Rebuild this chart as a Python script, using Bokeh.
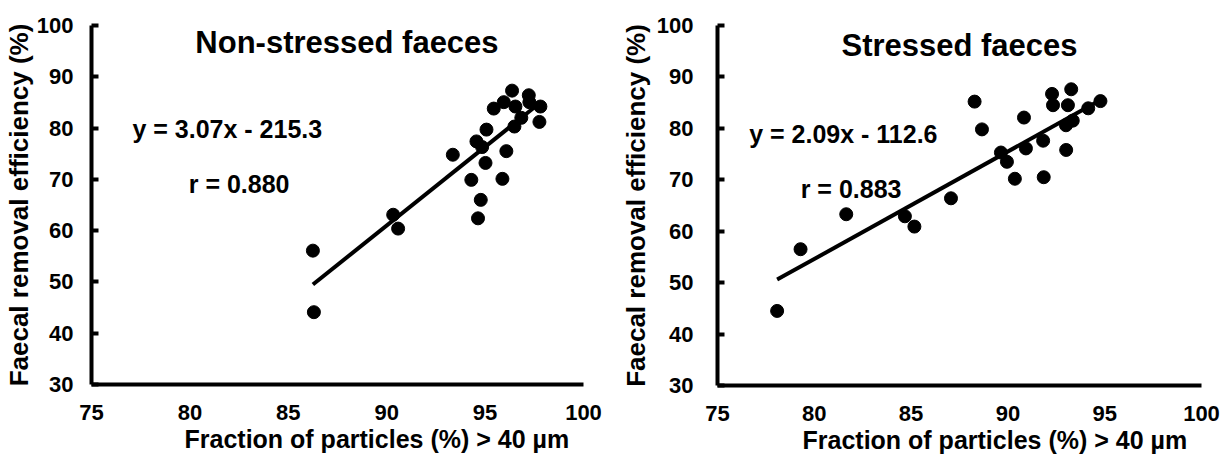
from bokeh.plotting import figure
from bokeh.layouts import row
from bokeh.models import Label, Range1d, FixedTicker, Title
from bokeh.embed import file_html
from bokeh.resources import INLINE

# ---- data ----
x_ticks = [75, 80, 85, 90, 95, 100]
y_ticks = [30, 40, 50, 60, 70, 80, 90, 100]

ns_x = [86.25, 86.3, 90.33, 90.58, 93.36, 94.3, 94.56, 94.64, 94.78, 94.85, 95.02, 95.07,
        95.44, 95.88, 95.95, 96.08, 96.37, 96.49, 96.54, 96.84, 97.22, 97.25, 97.76, 97.81]
ns_y = [56.1, 44.1, 63.1, 60.4, 74.8, 69.9, 77.4, 62.4, 66.0, 76.3, 73.2, 79.7,
        83.8, 70.1, 85.05, 75.5, 87.3, 80.3, 84.2, 82.0, 86.4, 85.05, 81.2, 84.2]
ns_slope, ns_intercept, ns_r = 3.07, -215.3, 0.880

st_x = [78.08, 79.29, 81.65, 84.68, 85.17, 87.06, 88.28, 88.66, 89.64, 89.95, 90.36, 90.83,
        90.93, 91.82, 91.85, 92.28, 92.33, 93.01, 93.0, 93.1, 93.27, 93.35, 94.15, 94.78]
st_y = [44.5, 56.5, 63.3, 62.9, 60.9, 66.4, 85.2, 79.8, 75.3, 73.5, 70.2, 82.1,
        76.1, 77.6, 70.5, 86.7, 84.5, 75.8, 80.6, 84.5, 87.6, 81.5, 83.9, 85.3]
st_slope, st_intercept, st_r = 2.09, -112.6, 0.883

titles = ["Non-stressed  faeces", "Stressed faeces"]
x_label = "Fraction of particles (%) > 40 \u00b5m"
y_label = "Faecal removal efficiency (%)"

FONT = "Liberation Sans"


def panel(xs, ys, slope, intercept, r, title, fw, fh, bl, br, bt, bb,
          tick_standoff, ylabel_standoff, xlabel_offset,
          title_pos, eq_pos, r_pos):
    p = figure(width=bl + fw + br, height=bt + fh + bb, frame_width=fw, frame_height=fh,
               min_border_left=bl, min_border_right=br, min_border_top=bt, min_border_bottom=bb,
               x_range=Range1d(75, 100), y_range=Range1d(30, 100),
               output_backend="svg", toolbar_location=None, tools="")
    p.outline_line_color = None
    p.grid.visible = False
    p.background_fill_color = "white"
    p.border_fill_color = "white"

    for ax in (p.xaxis[0], p.yaxis[0]):
        ax.axis_line_width = 4
        ax.axis_line_color = "black"
        ax.major_tick_line_width = 4
        ax.major_tick_line_color = "black"
        ax.minor_tick_line_color = None
        ax.major_label_text_font = FONT
        ax.major_label_text_font_style = "bold"
        ax.major_label_text_font_size = "22px"
        ax.major_label_text_color = "black"
    p.xaxis[0].ticker = FixedTicker(ticks=x_ticks)
    p.yaxis[0].ticker = FixedTicker(ticks=y_ticks)
    p.xaxis[0].major_tick_in = 0
    p.xaxis[0].major_tick_out = 0
    p.xaxis[0].major_label_standoff = 20
    p.yaxis[0].major_tick_in = 7
    p.yaxis[0].major_tick_out = 0
    p.yaxis[0].major_label_standoff = tick_standoff

    p.yaxis[0].axis_label = y_label
    p.yaxis[0].axis_label_text_font = FONT
    p.yaxis[0].axis_label_text_font_style = "bold"
    p.yaxis[0].axis_label_text_font_size = "26px"
    p.yaxis[0].axis_label_text_color = "black"
    p.yaxis[0].axis_label_standoff = ylabel_standoff

    p.add_layout(Title(text=x_label, align="left", offset=xlabel_offset, standoff=0,
                       text_font=FONT, text_font_style="bold", text_font_size="25px",
                       text_color="black"), "below")

    # regression line over data extent
    x0, x1 = min(xs), max(xs)
    p.line([x0, x1], [slope * x0 + intercept, slope * x1 + intercept],
           line_color="black", line_width=4)
    p.scatter(xs, ys, size=13, color="black")

    sign = "-" if intercept < 0 else "+"
    texts = [
        (title, title_pos, "31px"),
        ("y = %.2fx %s %.1f" % (slope, sign, abs(intercept)), eq_pos, "25px"),
        ("r = %.3f" % r, r_pos, "25px"),
    ]
    for t, (tx, ty), fs in texts:
        p.add_layout(Label(x=tx, y=ty, text=t, text_font=FONT, text_font_style="bold",
                           text_font_size=fs, text_color="black", text_align="center",
                           text_baseline="middle"))
    return p


left = panel(ns_x, ns_y, ns_slope, ns_intercept, ns_r, titles[0],
             fw=492, fh=359, bl=89, br=32, bt=25, bb=70,
             tick_standoff=18, ylabel_standoff=0, xlabel_offset=93,
             title_pos=(88.2, 96.7), eq_pos=(81.9, 79.9), r_pos=(82.5, 69.0))
right = panel(st_x, st_y, st_slope, st_intercept, st_r, titles[1],
              fw=484, fh=360, bl=102, br=23, bt=22, bb=72,
              tick_standoff=24, ylabel_standoff=3, xlabel_offset=85,
              title_pos=(87.5, 96.2), eq_pos=(81.5, 79.0), r_pos=(81.9, 68.2))

layout = row(left, right, spacing=0)
open("out.html", "w").write(file_html(layout, INLINE))
